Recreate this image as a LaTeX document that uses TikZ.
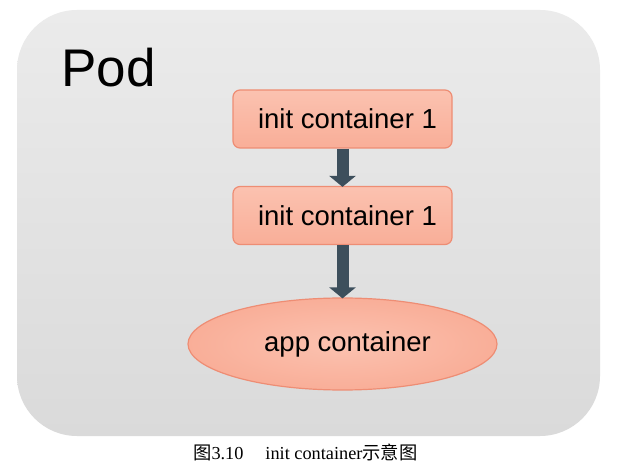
\documentclass[tikz,border=0pt]{standalone}
\usepackage{fontspec}
\setmainfont{Liberation Serif}
\newfontfamily\arialfont{Liberation Sans}
\newfontfamily\cjkfont{Noto Sans CJK SC}
\usetikzlibrary{shapes.geometric,arrows.meta}
\definecolor{podtop}{HTML}{EBEBEB}
\definecolor{podbot}{HTML}{DADADA}
\definecolor{boxfill}{HTML}{F9AE98}
\definecolor{boxlight}{HTML}{FBC2B0}
\definecolor{boxline}{HTML}{EE8D74}
\definecolor{arrowcol}{HTML}{3D4F5C}
\tikzset{
  initbox/.style={draw=boxline, line width=1.2pt, rounded corners=7pt, top color=boxlight, bottom color=boxfill,
    minimum width=219pt, minimum height=58pt, inner sep=0pt, font=\arialfont\fontsize{27.5}{30}\selectfont},
  appell/.style={ellipse, draw=boxline, line width=1.2pt, inner color=boxlight, outer color=boxfill,
    minimum width=309pt, minimum height=92pt, inner sep=0pt, font=\arialfont\fontsize{27.5}{30}\selectfont},
  flowarrow/.style={draw=arrowcol, line width=12pt, -{Triangle[width=26pt,length=11pt]}, shorten >=-1pt}
}
\begin{document}
\begin{tikzpicture}[x=1pt,y=-1pt]
\useasboundingbox (0,0) rectangle (632,470);
\fill[white] (0,0) rectangle (632,470);
\shade[top color=podtop, bottom color=podbot, rounded corners=60pt] (17,10) rectangle (600,436);
\node[anchor=base west, font=\arialfont\fontsize{53}{56}\selectfont, inner sep=0pt] (pod) at (61,87) {Pod};
\node[initbox] (c1) at (342.5,119) {\hspace*{10pt}init container 1};
\node[initbox] (c2) at (342.5,215.5) {\hspace*{10pt}init container 1};
\node[appell] (app) at (342.5,344) {\hspace*{10pt}app container};
\draw[flowarrow] (c1.south) -- (c2.north);
\draw[flowarrow] (c2.south) -- (app.north);
\node[anchor=base west, inner sep=0pt, font=\fontsize{18.3}{20}\selectfont] (cap) at (193,459)
  {{\cjkfont 图}3.10\hspace{1.2em}init container{\cjkfont 示意图}};
\end{tikzpicture}
\end{document}
